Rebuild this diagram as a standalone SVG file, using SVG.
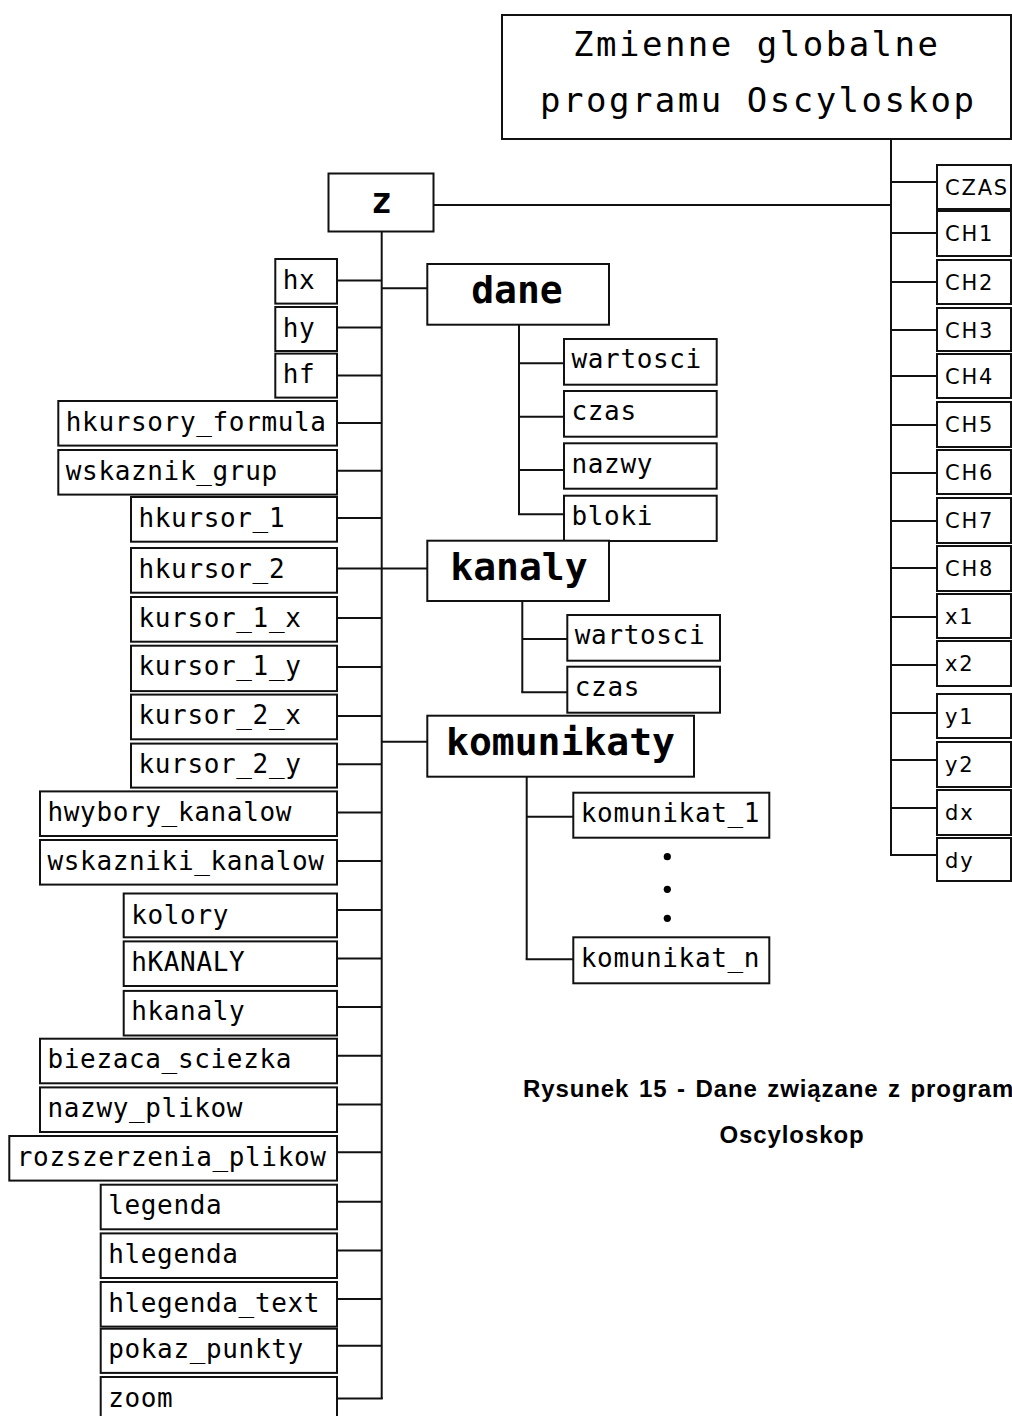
<svg xmlns="http://www.w3.org/2000/svg" width="1012" height="1416" viewBox="0 0 1012 1416">
<style>
rect{fill:#fff;stroke:#111;stroke-width:2}
.c line{stroke:#111;stroke-width:2;fill:none}
text{fill:#000}
.m{font-family:"DejaVu Sans Mono",monospace;font-size:26px;letter-spacing:0.65px}
.p{font-family:"DejaVu Sans",sans-serif;font-size:21px;letter-spacing:1.8px}
.h{font-family:"DejaVu Sans Mono",monospace;font-size:34px;letter-spacing:2.5px}
.b{font-family:"DejaVu Sans Mono",monospace;font-size:38px;font-weight:bold;text-anchor:middle}
.cap{font-family:"Liberation Sans",Arial,sans-serif;font-size:24px;font-weight:bold;letter-spacing:0.9px}
</style>
<rect width="1012" height="1416" style="fill:#fff;stroke:none"/>
<g class="c" id="connectors">
<line x1="891" y1="139" x2="891" y2="855"/>
<line x1="891" y1="182" x2="937" y2="182"/>
<line x1="891" y1="233" x2="937" y2="233"/>
<line x1="891" y1="282" x2="937" y2="282"/>
<line x1="891" y1="330" x2="937" y2="330"/>
<line x1="891" y1="376" x2="937" y2="376"/>
<line x1="891" y1="425" x2="937" y2="425"/>
<line x1="891" y1="473" x2="937" y2="473"/>
<line x1="891" y1="521" x2="937" y2="521"/>
<line x1="891" y1="568" x2="937" y2="568"/>
<line x1="891" y1="617" x2="937" y2="617"/>
<line x1="891" y1="665" x2="937" y2="665"/>
<line x1="891" y1="713" x2="937" y2="713"/>
<line x1="891" y1="760" x2="937" y2="760"/>
<line x1="891" y1="808" x2="937" y2="808"/>
<line x1="890" y1="855" x2="937" y2="855"/>
<line x1="433.5" y1="205" x2="891" y2="205"/>
<line x1="381.7" y1="231.5" x2="381.7" y2="1399"/>
<line x1="337" y1="280.4" x2="381.7" y2="280.4"/>
<line x1="337" y1="327.5" x2="381.7" y2="327.5"/>
<line x1="337" y1="375.4" x2="381.7" y2="375.4"/>
<line x1="337" y1="423" x2="381.7" y2="423"/>
<line x1="337" y1="470.7" x2="381.7" y2="470.7"/>
<line x1="337" y1="518" x2="381.7" y2="518"/>
<line x1="337" y1="568.5" x2="427.3" y2="568.5"/>
<line x1="337" y1="618" x2="381.7" y2="618"/>
<line x1="337" y1="667" x2="381.7" y2="667"/>
<line x1="337" y1="716" x2="381.7" y2="716"/>
<line x1="337" y1="764.3" x2="381.7" y2="764.3"/>
<line x1="337" y1="812.4" x2="381.7" y2="812.4"/>
<line x1="337" y1="861" x2="381.7" y2="861"/>
<line x1="337" y1="910" x2="381.7" y2="910"/>
<line x1="337" y1="958.4" x2="381.7" y2="958.4"/>
<line x1="337" y1="1007" x2="381.7" y2="1007"/>
<line x1="337" y1="1055.7" x2="381.7" y2="1055.7"/>
<line x1="337" y1="1104.4" x2="381.7" y2="1104.4"/>
<line x1="337" y1="1152.3" x2="381.7" y2="1152.3"/>
<line x1="337" y1="1201.7" x2="381.7" y2="1201.7"/>
<line x1="337" y1="1250.4" x2="381.7" y2="1250.4"/>
<line x1="337" y1="1299" x2="381.7" y2="1299"/>
<line x1="337" y1="1345.7" x2="381.7" y2="1345.7"/>
<line x1="337" y1="1398.4" x2="382.7" y2="1398.4"/>
<line x1="381.7" y1="288.2" x2="427.3" y2="288.2"/>
<line x1="381.7" y1="741.8" x2="427.3" y2="741.8"/>
<line x1="519" y1="324.7" x2="519" y2="514.3"/>
<line x1="519" y1="363.3" x2="564" y2="363.3"/>
<line x1="519" y1="416.7" x2="564" y2="416.7"/>
<line x1="519" y1="470" x2="564" y2="470"/>
<line x1="518" y1="514.3" x2="564" y2="514.3"/>
<line x1="522.3" y1="601" x2="522.3" y2="692.3"/>
<line x1="522.3" y1="639" x2="567.3" y2="639"/>
<line x1="521.3" y1="692.3" x2="567.3" y2="692.3"/>
<line x1="526.7" y1="776.7" x2="526.7" y2="959.3"/>
<line x1="526.7" y1="816.7" x2="573.3" y2="816.7"/>
<line x1="525.7" y1="959.3" x2="573.3" y2="959.3"/>
</g>
<g id="header"><rect x="502" y="15" width="509" height="124"/>
<text class="h" x="573" y="56">Zmienne globalne</text>
<text class="h" x="540" y="112">programu Oscyloskop</text></g>
<g id="n-CZAS"><rect x="937" y="165" width="74" height="44"/><text class="p" x="945" y="194.5">CZAS</text></g>
<g id="n-CH1"><rect x="937" y="211" width="74" height="45"/><text class="p" x="945" y="240.5">CH1</text></g>
<g id="n-CH2"><rect x="937" y="260" width="74" height="44"/><text class="p" x="945" y="289.5">CH2</text></g>
<g id="n-CH3"><rect x="937" y="308" width="74" height="43"/><text class="p" x="945" y="337.5">CH3</text></g>
<g id="n-CH4"><rect x="937" y="354" width="74" height="44"/><text class="p" x="945" y="383.5">CH4</text></g>
<g id="n-CH5"><rect x="937" y="402" width="74" height="45"/><text class="p" x="945" y="431.5">CH5</text></g>
<g id="n-CH6"><rect x="937" y="450" width="74" height="44"/><text class="p" x="945" y="479.5">CH6</text></g>
<g id="n-CH7"><rect x="937" y="498" width="74" height="45"/><text class="p" x="945" y="527.5">CH7</text></g>
<g id="n-CH8"><rect x="937" y="546" width="74" height="45"/><text class="p" x="945" y="575.5">CH8</text></g>
<g id="n-x1"><rect x="937" y="594" width="74" height="44"/><text class="p" x="945" y="623.5">x1</text></g>
<g id="n-x2"><rect x="937" y="641" width="74" height="45"/><text class="p" x="945" y="670.5">x2</text></g>
<g id="n-y1"><rect x="937" y="694" width="74" height="44"/><text class="p" x="945" y="723.5">y1</text></g>
<g id="n-y2"><rect x="937" y="742" width="74" height="45"/><text class="p" x="945" y="771.5">y2</text></g>
<g id="n-dx"><rect x="937" y="790" width="74" height="45"/><text class="p" x="945" y="819.5">dx</text></g>
<g id="n-dy"><rect x="937" y="838" width="74" height="43"/><text class="p" x="945" y="867.5">dy</text></g>
<g id="n-z"><rect x="328.5" y="173.5" width="105" height="58"/><text class="b" style="font-size:35px" x="381.5" y="213">z</text></g>
<g id="n-hx"><rect x="275.3" y="259" width="61.7" height="44.6"/><text class="m" x="282.8" y="288.5">hx</text></g>
<g id="n-hy"><rect x="275.3" y="307" width="61.7" height="44"/><text class="m" x="282.8" y="336.5">hy</text></g>
<g id="n-hf"><rect x="275.3" y="353.6" width="61.7" height="44"/><text class="m" x="282.8" y="383">hf</text></g>
<g id="n-hkursory_formula"><rect x="58.3" y="401" width="278.7" height="44.6"/><text class="m" x="65.8" y="430.5">hkursory_formula</text></g>
<g id="n-wskaznik_grup"><rect x="58.3" y="450" width="278.7" height="44.6"/><text class="m" x="65.8" y="479.5">wskaznik_grup</text></g>
<g id="n-hkursor_1"><rect x="131" y="497" width="206" height="44.7"/><text class="m" x="138.5" y="526.5">hkursor_1</text></g>
<g id="n-hkursor_2"><rect x="131" y="548" width="206" height="44.7"/><text class="m" x="138.5" y="577.5">hkursor_2</text></g>
<g id="n-kursor_1_x"><rect x="131" y="597" width="206" height="44.7"/><text class="m" x="138.5" y="626.5">kursor_1_x</text></g>
<g id="n-kursor_1_y"><rect x="131" y="645.7" width="206" height="45.4"/><text class="m" x="138.5" y="675.2">kursor_1_y</text></g>
<g id="n-kursor_2_x"><rect x="131" y="694.6" width="206" height="44.7"/><text class="m" x="138.5" y="724.1">kursor_2_x</text></g>
<g id="n-kursor_2_y"><rect x="131" y="743.6" width="206" height="44"/><text class="m" x="138.5" y="773.1">kursor_2_y</text></g>
<g id="n-hwybory_kanalow"><rect x="40" y="791.4" width="297" height="44.6"/><text class="m" x="47.5" y="820.9">hwybory_kanalow</text></g>
<g id="n-wskazniki_kanalow"><rect x="40" y="840" width="297" height="44.6"/><text class="m" x="47.5" y="869.5">wskazniki_kanalow</text></g>
<g id="n-kolory"><rect x="123.7" y="893.5" width="213.3" height="43.8"/><text class="m" x="131.2" y="923.5">kolory</text></g>
<g id="n-hKANALY"><rect x="123.7" y="941.4" width="213.3" height="44.6"/><text class="m" x="131.2" y="971">hKANALY</text></g>
<g id="n-hkanaly"><rect x="123.7" y="990.9" width="213.3" height="44.6"/><text class="m" x="131.2" y="1020.4">hkanaly</text></g>
<g id="n-biezaca_sciezka"><rect x="40" y="1038.7" width="297" height="44.6"/><text class="m" x="47.5" y="1068.2">biezaca_sciezka</text></g>
<g id="n-nazwy_plikow"><rect x="40" y="1087.4" width="297" height="44.6"/><text class="m" x="47.5" y="1116.9">nazwy_plikow</text></g>
<g id="n-rozszerzenia_plikow"><rect x="9.3" y="1136" width="327.7" height="44.6"/><text class="m" x="16.8" y="1165.5">rozszerzenia_plikow</text></g>
<g id="n-legenda"><rect x="100.7" y="1184.7" width="236.3" height="44.6"/><text class="m" x="108.2" y="1214.2">legenda</text></g>
<g id="n-hlegenda"><rect x="100.7" y="1233.4" width="236.3" height="44.6"/><text class="m" x="108.2" y="1262.9">hlegenda</text></g>
<g id="n-hlegenda_text"><rect x="100.7" y="1282" width="236.3" height="44.6"/><text class="m" x="108.2" y="1311.5">hlegenda_text</text></g>
<g id="n-pokaz_punkty"><rect x="100.7" y="1328.7" width="236.3" height="44.2"/><text class="m" x="108.2" y="1358.2">pokaz_punkty</text></g>
<g id="n-zoom"><rect x="100.7" y="1377" width="236.3" height="44.6"/><text class="m" x="108.2" y="1406.5">zoom</text></g>
<g id="n-dane"><rect x="427.3" y="264" width="181.7" height="60.7"/><text class="b" x="517" y="303">dane</text></g>
<g id="n-dane-wartosci"><rect x="564" y="339" width="152.7" height="45.7"/><text class="m" x="571.5" y="368.3">wartosci</text></g>
<g id="n-dane-czas"><rect x="564" y="391" width="152.7" height="45.7"/><text class="m" x="571.5" y="420.3">czas</text></g>
<g id="n-dane-nazwy"><rect x="564" y="443.3" width="152.7" height="45.4"/><text class="m" x="571.5" y="472.6">nazwy</text></g>
<g id="n-dane-bloki"><rect x="564" y="495.7" width="152.7" height="45.3"/><text class="m" x="571.5" y="525">bloki</text></g>
<g id="n-kanaly"><rect x="427.3" y="540.7" width="181.7" height="60.3"/><text class="b" x="519" y="580">kanaly</text></g>
<g id="n-kanaly-wartosci"><rect x="567.3" y="615" width="152.7" height="45.7"/><text class="m" x="574.8" y="644.3">wartosci</text></g>
<g id="n-kanaly-czas"><rect x="567.3" y="666.7" width="152.7" height="46"/><text class="m" x="574.8" y="696">czas</text></g>
<g id="n-komunikaty"><rect x="427.3" y="715.7" width="266.7" height="61"/><text class="b" x="560.5" y="755">komunikaty</text></g>
<g id="n-komunikat_1"><rect x="573.3" y="792.7" width="196" height="45"/><text class="m" x="580.8" y="822">komunikat_1</text></g>
<g id="dots"><circle cx="667.3" cy="856.7" r="3.6"/><circle cx="667.3" cy="889.3" r="3.6"/><circle cx="667.3" cy="918.3" r="3.6"/></g>
<g id="n-komunikat_n"><rect x="573.3" y="937.3" width="196" height="46"/><text class="m" x="580.8" y="966.6">komunikat_n</text></g>
<g id="caption">
<text class="cap" x="523" y="1097" style="word-spacing:2px">Rysunek 15 - Dane związane z program</text>
<text class="cap" x="792" y="1143" text-anchor="middle">Oscyloskop</text>
</g>
</svg>
